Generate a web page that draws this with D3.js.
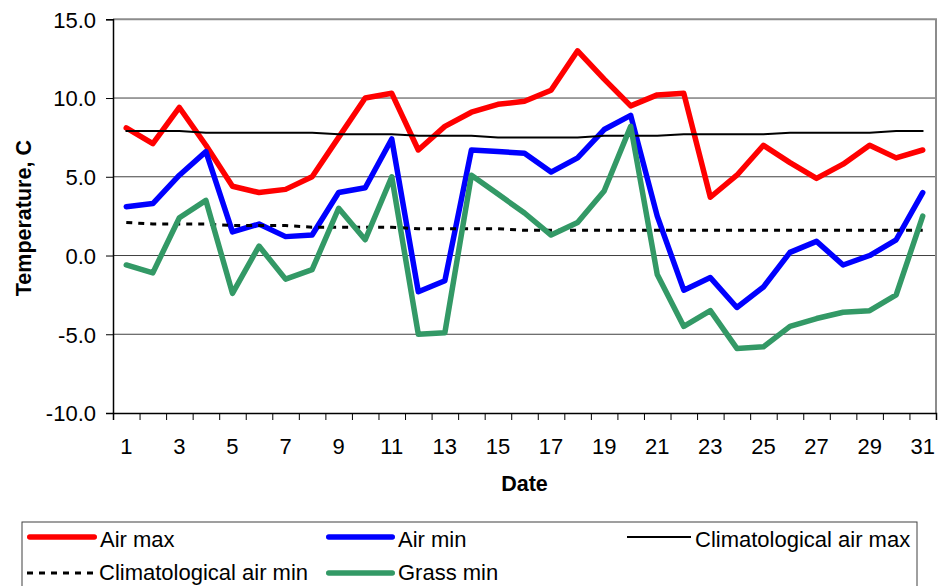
<!DOCTYPE html>
<html>
<head>
<meta charset="utf-8">
<script src="https://cdn.jsdelivr.net/npm/d3@7"></script>
<style>
  body { margin: 0; background: #fff; }
  svg { display: block; font-family: "Liberation Sans", Arial, sans-serif; }
</style>
</head>
<body>
<svg id="chart" width="938" height="586"></svg>
<script>
// daily values
const days = d3.range(1, 32);
const airMax = [8.1, 7.1, 9.4, 7.0, 4.4, 4.0, 4.2, 5.0, 7.5, 10.0, 10.3, 6.7, 8.2, 9.1, 9.6,
  9.8, 10.5, 13.0, 11.2, 9.5, 10.2, 10.3, 3.7, 5.1, 7.0, 5.9, 4.9, 5.8, 7.0, 6.2, 6.7];
const airMin = [3.1, 3.3, 5.1, 6.6, 1.5, 2.0, 1.2, 1.3, 4.0, 4.3, 7.4, -2.3, -1.6, 6.7, 6.6,
  6.5, 5.3, 6.2, 8.0, 8.9, 2.5, -2.2, -1.4, -3.3, -2.0, 0.2, 0.9, -0.6, 0.0, 1.0, 4.0];
const climMax = [7.9, 7.9, 7.9, 7.8, 7.8, 7.8, 7.8, 7.8, 7.7, 7.7, 7.7, 7.6, 7.6, 7.6, 7.5,
  7.5, 7.5, 7.5, 7.6, 7.6, 7.6, 7.7, 7.7, 7.7, 7.7, 7.8, 7.8, 7.8, 7.8, 7.9, 7.9];
const climMin = [2.1, 2.0, 2.0, 2.0, 1.9, 1.9, 1.9, 1.8, 1.8, 1.8, 1.8, 1.7, 1.7, 1.7, 1.7,
  1.6, 1.6, 1.6, 1.6, 1.6, 1.6, 1.6, 1.6, 1.6, 1.6, 1.6, 1.6, 1.6, 1.6, 1.6, 1.6];
const grassMin = [-0.6, -1.1, 2.4, 3.5, -2.4, 0.6, -1.5, -0.9, 3.0, 1.0, 5.0, -5.0, -4.9, 5.1, 3.9,
  2.7, 1.3, 2.1, 4.1, 8.2, -1.2, -4.5, -3.5, -5.9, -5.8, -4.5, -4.0, -3.6, -3.5, -2.5, 2.5];
const yTicks = [-10, -5, 0, 5, 10, 15];
const xLabels = days.filter(d => d % 2 == 1);

let series = [
  {"name": "Air max", "values": airMax, "color": "#ff0000", "width": 5.5, "dash": null},
  {"name": "Air min", "values": airMin, "color": "#0000ff", "width": 5.5, "dash": null},
  {"name": "Climatological air max", "values": climMax, "color": "#000", "width": 2, "dash": null},
  {"name": "Climatological air min", "values": climMin, "color": "#000", "width": 3, "dash": "6,6"},
  {"name": "Grass min", "values": grassMin, "color": "#339966", "width": 5.5, "dash": null}
];

let canvas = {
  "left": 113,
  "right": 936,
  "top": 19.3,
  "bottom": 413
};

let svg = d3.select("#chart");

let xScale = d3.scaleBand()
  .domain(days)
  .range([canvas.left, canvas.right]);

// same range, used for the tick marks between categories
let xEdge = d3.scaleLinear()
  .domain([0.5, 31.5])
  .range([canvas.left, canvas.right]);

let yScale = d3.scaleLinear()
  .domain([-10, 15])
  .range([canvas.bottom, canvas.top]);

// gridlines
svg.append("g")
  .selectAll("line")
  .data(yTicks.filter(d => d > -10 && d < 15))
  .join("line")
  .attr("x1", canvas.left)
  .attr("x2", canvas.right)
  .attr("y1", d => yScale(d))
  .attr("y2", d => yScale(d))
  .attr("stroke", "#404040")
  .attr("stroke-width", 1);

// plot border (top / right)
svg.append("path")
  .attr("d", `M${canvas.left},${yScale(15)}H${canvas.right}V${canvas.bottom}`)
  .attr("fill", "none")
  .attr("stroke", "#8c8c8c")
  .attr("stroke-width", 2);

// lines
let line = d3.line()
  .x((d, i) => xScale(days[i]) + xScale.bandwidth() / 2)
  .y(d => yScale(d));

svg.append("g")
  .selectAll("path")
  .data(series)
  .join("path")
  .attr("d", d => line(d.values))
  .attr("fill", "none")
  .attr("stroke", d => d.color)
  .attr("stroke-width", d => d.width)
  .attr("stroke-dasharray", d => d.dash)
  .attr("stroke-linejoin", "round")
  .attr("stroke-linecap", d => d.dash ? "butt" : "round");

// y axis
let gy = svg.append("g")
  .attr("transform", `translate(${canvas.left}, 0)`)
  .call(d3.axisLeft(yScale).tickValues(yTicks).tickSize(7).tickPadding(10)
    .tickFormat(d => d.toFixed(1)));
gy.select(".domain").attr("stroke", "#000").attr("stroke-width", 1.5);
gy.selectAll(".tick line").attr("stroke", "#000");
gy.selectAll(".tick text")
  .attr("font-size", "22px")
  .attr("font-family", "Liberation Sans, Arial, sans-serif")
  .attr("fill", "#000")
  .attr("dy", "0.36em");

// x axis: tick marks on category edges
let gx = svg.append("g")
  .attr("transform", `translate(0, ${canvas.bottom})`)
  .call(d3.axisBottom(xEdge).tickValues(d3.range(0.5, 32, 1)).tickSize(7).tickFormat(""));
gx.select(".domain").attr("stroke", "#000").attr("stroke-width", 1.5);
gx.selectAll(".tick line").attr("stroke", "#000");

// x labels on odd days
let gxl = svg.append("g")
  .attr("transform", `translate(0, ${canvas.bottom})`)
  .call(d3.axisBottom(xScale).tickValues(xLabels).tickSize(0).tickPadding(25));
gxl.select(".domain").remove();
gxl.selectAll(".tick text")
  .attr("font-size", "22px")
  .attr("font-family", "Liberation Sans, Arial, sans-serif")
  .attr("fill", "#000");

// axis titles
svg.append("text")
  .attr("x", (canvas.left + canvas.right) / 2)
  .attr("y", 491)
  .attr("text-anchor", "middle")
  .attr("font-size", "21.5px")
  .attr("font-weight", "bold")
  .text("Date");

svg.append("text")
  .attr("transform", `translate(30.5, ${(canvas.top + canvas.bottom) / 2 + 2}) rotate(-90)`)
  .attr("text-anchor", "middle")
  .attr("font-size", "21.5px")
  .attr("font-weight", "bold")
  .text("Temperature, C");

// legend
let legendPos = [
  {"x": 27, "y": 537, "len": 70, "ty": 10},
  {"x": 326, "y": 537, "len": 69, "ty": 10},
  {"x": 626, "y": 537, "len": 66, "ty": 10},
  {"x": 27, "y": 573, "len": 69, "ty": 7},
  {"x": 326, "y": 573, "len": 69, "ty": 7}
];

svg.append("rect")
  .attr("x", 22)
  .attr("y", 522)
  .attr("width", 895)
  .attr("height", 90)
  .attr("fill", "#fff")
  .attr("stroke", "#404040")
  .attr("stroke-width", 1);

let legend = svg.append("g")
  .selectAll("g")
  .data(series)
  .join("g")
  .attr("transform", (d, i) => `translate(${legendPos[i].x}, ${legendPos[i].y})`);

legend.append("line")
  .attr("x1", d => d.dash ? 0 : d.width / 2)
  .attr("x2", (d, i) => legendPos[i].len - (d.dash ? 0 : d.width / 2))
  .attr("stroke", d => d.color)
  .attr("stroke-width", d => d.width)
  .attr("stroke-dasharray", d => d.dash)
  .attr("stroke-linecap", d => d.dash || d.width < 3 ? "butt" : "round");

legend.append("text")
  .attr("x", (d, i) => legendPos[i].len + 3)
  .attr("y", (d, i) => legendPos[i].ty)
  .attr("font-size", "22px")
  .text(d => d.name);
</script>
</body>
</html>
